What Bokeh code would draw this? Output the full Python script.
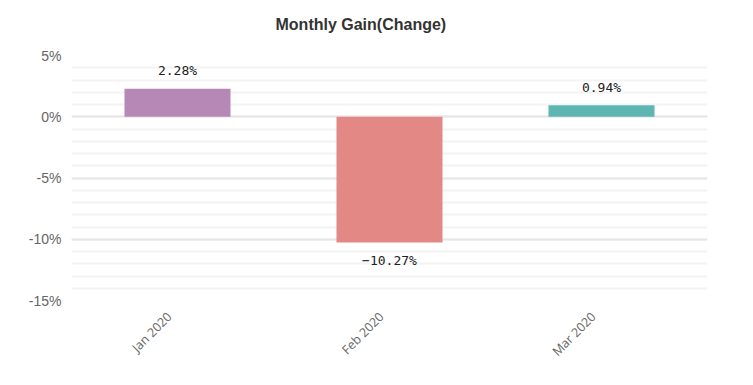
import math
from bokeh.plotting import figure
from bokeh.models import (ColumnDataSource, Range1d, FixedTicker, CustomJSTickFormatter,
                          LabelSet, Title, LinearAxis, LinearScale)
from bokeh.core.properties import value
from bokeh.embed import file_html
from bokeh.resources import INLINE

months = ["Jan 2020", "Feb 2020", "Mar 2020"]
gains = [2.28, -10.27, 0.94]
colors = ["#b588b5", "#e38885", "#5db6b2"]
labels = ["2.28%", "\u221210.27%", "0.94%"]
y_ticks = [-15, -10, -5, 0, 5]
y_min, y_max = -15, 5

n = len(months)
xpos = [i + 0.5 for i in range(n)]
offsets = [18 if g >= 0 else -18 for g in gains]
src = ColumnDataSource(dict(x=xpos, month=months, top=gains, color=colors, label=labels, off=offsets))

p = figure(width=753, height=382, x_range=Range1d(0, n),
           y_range=Range1d(y_min, y_max), output_backend="svg", toolbar_location=None,
           min_border_left=71, min_border_right=46, min_border_top=55, min_border_bottom=82)
p.outline_line_color = None
p.border_fill_color = "white"
p.background_fill_color = "white"

p.vbar(x="x", top="top", bottom=0, width=0.5, color="color", source=src, line_color=None)

lbl = LabelSet(x="x", y="top", text="label", source=src, y_offset="off",
               text_align="center", text_baseline="middle",
               text_font=value("DejaVu Sans Mono"), text_font_size="13px", text_color="#222222")
p.add_layout(lbl)

# category label axis on a helper range nudged so rotated labels end left of bar centre
shift = 0.038
p.extra_x_ranges = {"lab": Range1d(shift, n + shift)}
p.extra_x_scales = {"lab": LinearScale()}
lab_axis = LinearAxis(x_range_name="lab", ticker=FixedTicker(ticks=xpos),
                      major_label_overrides={x: m for x, m in zip(xpos, months)})
lab_axis.axis_line_color = None
lab_axis.major_tick_line_color = None
lab_axis.minor_tick_line_color = None
lab_axis.major_label_orientation = math.pi / 4
lab_axis.major_label_standoff = 8
lab_axis.major_label_text_font = "Open Sans"
lab_axis.major_label_text_font_size = "12.5px"
lab_axis.major_label_text_color = "#666666"
p.xaxis.visible = False
p.add_layout(lab_axis, "below")

t = Title(text="Monthly Gain(Change)\n", align="left", offset=204, standoff=12,
          text_font="Liberation Sans", text_font_size="16px", text_font_style="bold",
          text_color="#333333")
p.add_layout(t, "above")

p.yaxis.ticker = FixedTicker(ticks=y_ticks, minor_ticks=list(range(-15, 6)))
p.yaxis.formatter = CustomJSTickFormatter(code="return tick + '%';")
p.yaxis.axis_line_color = None
p.yaxis.major_tick_line_color = None
p.yaxis.minor_tick_line_color = None
p.yaxis.major_label_standoff = 4
p.yaxis.major_label_text_font = "Liberation Sans"
p.yaxis.major_label_text_font_size = "14px"
p.yaxis.major_label_text_color = "#666666"

p.xgrid.grid_line_color = None
p.ygrid.grid_line_color = "#e6e6e6"
p.ygrid.grid_line_width = 2
p.ygrid.minor_grid_line_color = "#f3f3f3"
p.ygrid.minor_grid_line_width = 2

open("out.html", "w").write(file_html(p, INLINE))
